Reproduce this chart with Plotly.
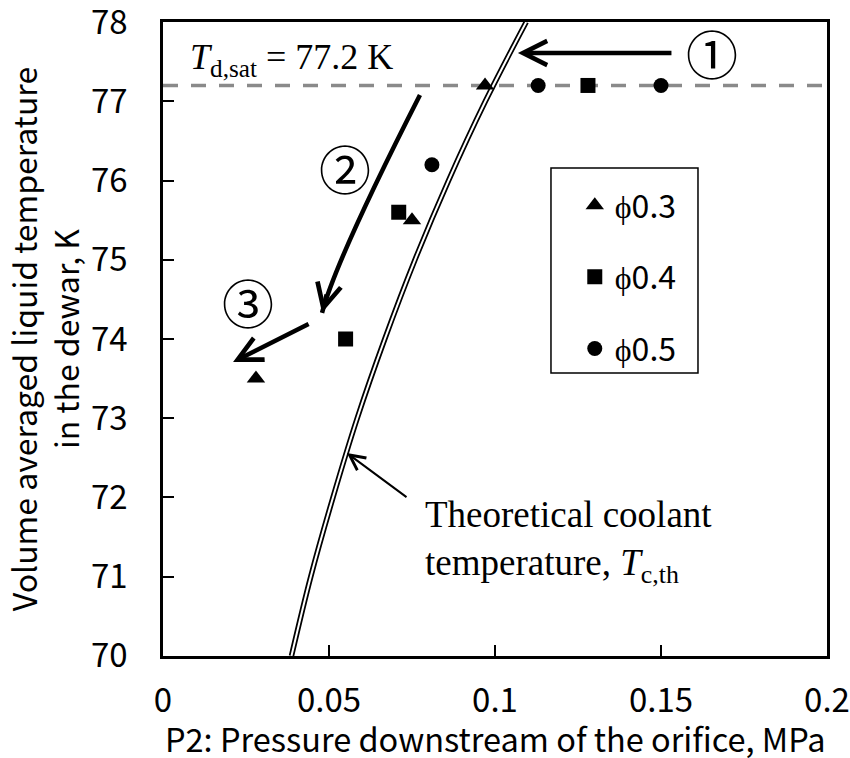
import plotly.graph_objects as go

# Measured volume-averaged liquid temperature in the dewar vs. P2, per orifice size
p2_phi03 = [0.097, 0.075, 0.028]
t_phi03 = [77.2, 75.5, 73.5]
p2_phi04 = [0.128, 0.071, 0.055]
t_phi04 = [77.2, 75.6, 74.0]
p2_phi05 = [0.113, 0.150, 0.081]
t_phi05 = [77.2, 77.2, 76.2]

# Theoretical coolant temperature T_c,th against downstream pressure
t_theory = [70, 71, 72, 73, 74, 75, 76, 77, 78]
p2_theory = [0.0387, 0.0445, 0.0512, 0.0585, 0.0668, 0.0759, 0.0860, 0.0971, 0.1094]

# Saturation temperature of the liquid in the dewar
T_DSAT = 77.2

x_tickvals = [0, 0.05, 0.1, 0.15, 0.2]
x_ticktext = ["0", "0.05", "0.1", "0.15", "0.2"]
y_tickvals = [70, 71, 72, 73, 74, 75, 76, 77, 78]

SANS = "Noto Sans CJK JP"
SERIF = "Liberation Serif"

fig = go.Figure()

# theoretical curve drawn as a double line: black stroke with a white core
fig.add_trace(go.Scatter(x=p2_theory, y=t_theory, mode="lines", line=dict(color="black", width=5.5, shape="spline"),
                         showlegend=False, hoverinfo="skip"))
fig.add_trace(go.Scatter(x=p2_theory, y=t_theory, mode="lines", line=dict(color="white", width=2, shape="spline"),
                         showlegend=False, hoverinfo="skip"))

fig.add_trace(go.Scatter(x=p2_phi03, y=t_phi03, mode="markers", name="ϕ0.3", legendgroup="a",
                         marker=dict(symbol="triangle-up", size=16, color="black")))
fig.add_trace(go.Scatter(x=p2_phi04, y=t_phi04, mode="markers", name="ϕ0.4", legendgroup="b",
                         marker=dict(symbol="square", size=15, color="black")))
fig.add_trace(go.Scatter(x=p2_phi05, y=t_phi05, mode="markers", name="ϕ0.5", legendgroup="c",
                         marker=dict(symbol="circle", size=15, color="black")))

# dashed saturation line
fig.add_shape(type="line", xref="paper", yref="y", x0=0, x1=1, y0=T_DSAT, y1=T_DSAT,
              line=dict(color="#8a8a8a", width=3.5, dash="15px,13px"), layer="below")

# legend frame
fig.add_shape(type="rect", xref="paper", yref="paper", x0=0.5843, x1=0.8057, y0=0.4464, y1=0.7697,
              line=dict(color="black", width=1.5), fillcolor="white", layer="below")

# curved arrow (2): body
fig.add_shape(type="path", xref="x", yref="y",
              path="M 0.0774,77.08 Q 0.0521,75.00 0.0479,74.33",
              line=dict(color="black", width=4.5))

arrow_kw = dict(text="", showarrow=True, xref="x", yref="y", axref="x", ayref="y",
                arrowcolor="black", arrowhead=5)
num_font = dict(family=SANS, size=52, color="black")
annotations = [
    # arrow (1)
    dict(x=0.1069, y=77.61, ax=0.1536, ay=77.61, arrowwidth=4.5, arrowsize=1.05, **arrow_kw),
    # head of arrow (2)
    dict(x=0.0479, y=74.33, ax=0.0494, ay=74.58, arrowwidth=4.5, arrowsize=1.05, **arrow_kw),
    # arrow (3)
    dict(x=0.0211, y=73.71, ax=0.0443, ay=74.20, arrowwidth=4.5, arrowsize=1.05, **arrow_kw),
    # pointer to the theoretical curve
    dict(x=0.0554, y=72.56, ax=0.0738, ay=71.99, arrowwidth=2, arrowsize=1.5, **arrow_kw),
    dict(x=0.1654, y=77.61, text="①", showarrow=False, font=num_font),
    dict(x=0.0548, y=76.16, text="②", showarrow=False, font=num_font),
    dict(x=0.0256, y=74.47, text="③", showarrow=False, font=num_font),
    dict(x=0.0075, y=77.53, xanchor="left", yanchor="middle", showarrow=False,
         text=f"<i>T</i><sub>d,sat</sub> = {T_DSAT} K", font=dict(family=SERIF, size=36, color="black")),
    dict(x=0.0783, y=71.44, xanchor="left", yanchor="middle", align="left", showarrow=False,
         text="Theoretical coolant<br>temperature, <i>T</i><sub>c,th</sub>",
         font=dict(family=SERIF, size=37, color="black")),
    # x-axis title
    dict(x=0.5, y=-0.1293, xref="paper", yref="paper", xanchor="center", yanchor="middle", showarrow=False,
         text="P2: Pressure downstream of the orifice, MPa", font=dict(family=SANS, size=32.5, color="black")),
]

axis_common = dict(showline=True, linecolor="black", linewidth=2.5, mirror=True,
                   ticks="inside", ticklen=11, tickwidth=2, tickcolor="black",
                   showgrid=False, zeroline=False, automargin=False, ticklabeloverflow="allow",
                   tickfont=dict(family=SANS, size=33, color="black"))

fig.update_layout(
    width=850, height=758,
    margin=dict(l=163, r=23, t=22, b=102),
    paper_bgcolor="white", plot_bgcolor="white",
    annotations=annotations,
    showlegend=True,
    legend=dict(x=0.584, y=0.754, xanchor="left", yanchor="top",
                borderwidth=0, bgcolor="rgba(0,0,0,0)",
                font=dict(family=SANS, size=32, color="black"),
                traceorder="grouped", tracegroupgap=27, indentation=24),
    xaxis=dict(range=[0, 0.2], tickvals=x_tickvals, ticktext=x_ticktext, ticklabelstandoff=14,
               **axis_common),
    yaxis=dict(range=[69.999, 78.001], tickvals=y_tickvals, ticklabelstandoff=26,
               title=dict(text="Volume averaged liquid temperature<br>in the dewar, K",
                          font=dict(family=SANS, size=32, color="black"), standoff=8),
               **axis_common),
)

fig.write_html("out.html")
